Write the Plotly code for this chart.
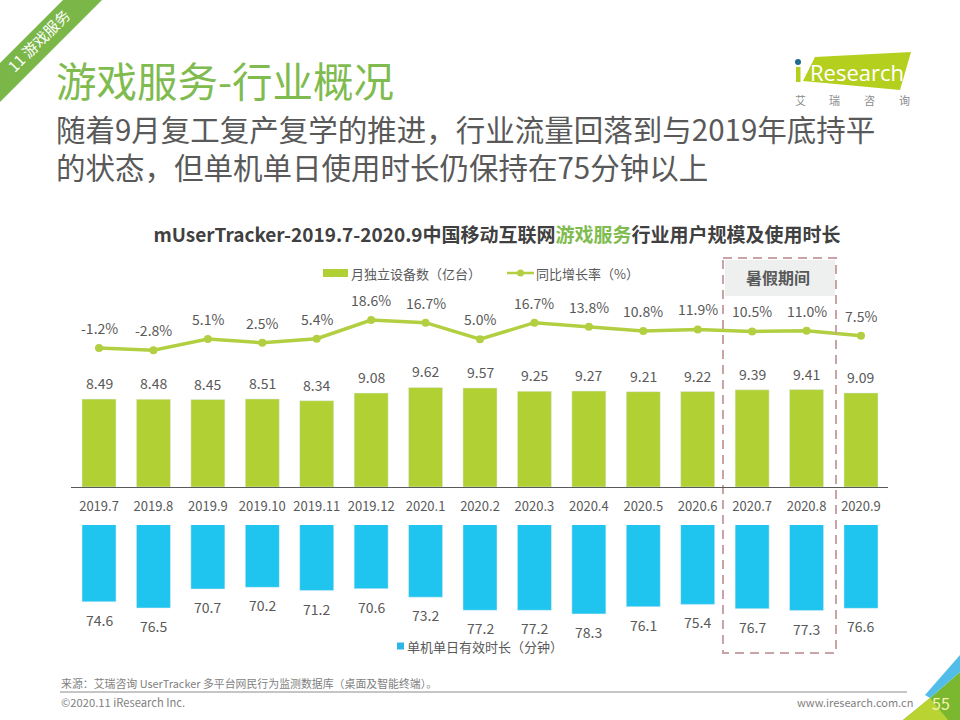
import plotly.graph_objects as go

months = ["2019.7","2019.8","2019.9","2019.10","2019.11","2019.12","2020.1","2020.2","2020.3","2020.4","2020.5","2020.6","2020.7","2020.8","2020.9"]
devices = [8.49,8.48,8.45,8.51,8.34,9.08,9.62,9.57,9.25,9.27,9.21,9.22,9.39,9.41,9.09]
growth = [-1.2,-2.8,5.1,2.5,5.4,18.6,16.7,5.0,16.7,13.8,10.8,11.9,10.5,11.0,7.5]
minutes = [74.6,76.5,70.7,70.2,71.2,70.6,73.2,77.2,77.2,78.3,76.1,75.4,76.7,77.3,76.6]

GREEN = "#b0d034"
LINE = "#b2cf42"
BLUE = "#1fc5ee"
TEXT = "#595959"
TITLE_GREEN = "#7fbb4f"
FONT = "Noto Sans CJK SC"
W, H = 960, 720

def fx(p): return p / W
def fy(p): return 1 - p / H

def poly(points, color):
    path = "M " + " L ".join(f"{fx(x):.5f},{fy(y):.5f}" for x, y in points) + " Z"
    return dict(type="path", xref="paper", yref="paper", path=path, fillcolor=color, line_width=0, layer="below")

def rect(x0, y0, x1, y1, color, layer="below"):
    return dict(type="rect", xref="paper", yref="paper", x0=fx(x0), x1=fx(x1), y0=fy(y0), y1=fy(y1),
                fillcolor=color, line_width=0, layer=layer)

def label(x, y, text, size, color=TEXT, anchor="left", angle=0, family=FONT):
    return dict(xref="paper", yref="paper", x=fx(x), y=fy(y), text=text, showarrow=False, xanchor=anchor,
                yanchor="middle", align="left", textangle=angle, font=dict(size=size, color=color, family=family))

fig = go.Figure()
fig.add_bar(x=months, y=devices, name="月独立设备数（亿台）", marker_color=GREEN, yaxis="y", width=0.625)
fig.add_scatter(x=months, y=growth, name="同比增长率（%）", mode="lines+markers", yaxis="y3",
                line=dict(color=LINE, width=3.5), marker=dict(color=LINE, size=8))
fig.add_bar(x=months, y=minutes, name="单机单日有效时长（分钟）", marker_color=BLUE, yaxis="y2", width=0.625)

ann = []
value_font = dict(size=14, color=TEXT, family=FONT)
for i, (d, g, t) in enumerate(zip(devices, growth, minutes)):
    ann.append(dict(xref="x", x=i, yref="y", y=d, text=f"{d:.2f}", yshift=16, showarrow=False, font=value_font))
    ann.append(dict(xref="x", x=i, yref="y3", y=g, text=f"{g:.1f}%", yshift=20, showarrow=False, font=value_font))
    ann.append(dict(xref="x", x=i, yref="y2", y=t, text=f"{t:.1f}", yshift=-18, showarrow=False, font=value_font))

ann += [
    label(38, 40, "11 游戏服务", 15, "#ffffff", "center", -45),
    label(54, 79, "游戏服务-行业概况", 40.5, TITLE_GREEN),
    label(54, 147, "随着9月复工复产复学的推进，行业流量回落到与2019年底持平<br>的状态，但单机单日使用时长仍保持在75分钟以上", 29.5),
    label(778, 277, "<b>暑假期间</b>", 16, TEXT, "center"),
    label(349, 273, "月独立设备数（亿台）", 13),
    label(534, 273, "同比增长率（%）", 13),
    label(405, 646, "单机单日有效时长（分钟）", 13),
    label(857, 72, "Research", 22, "#ffffff", "center", 0, "Open Sans"),
    label(59, 683, "来源：艾瑞咨询 UserTracker 多平台网民行为监测数据库（桌面及智能终端）。", 10.9, "#7f7f7f"),
    label(59, 702, "©2020.11 iResearch Inc.", 11.2, "#7f7f7f"),
    label(915, 702, "www.iresearch.com.cn", 11, "#7f7f7f", "right"),
    label(941, 703, "55", 16, "#f4f3b0", "center"),
]
for x, ch in zip([800, 834, 869, 904], "艾瑞咨询"):
    ann.append(label(x, 100, ch, 11, "#8c8c8c", "center"))

shapes = [
    poly([(0, 63), (63, 0), (102, 0), (0, 102)], "#7ab648"),
    poly([(815, 57), (911, 52), (900, 90), (803, 81)], "#b5cf1f"),
    rect(796, 67, 800.5, 82, "#b5cf1f"),
    dict(type="circle", xref="paper", yref="paper", x0=fx(795), x1=fx(801), y0=fy(59), y1=fy(65),
         fillcolor="#1f6a8f", line_width=0, layer="below"),
    poly([(960, 672), (930, 698), (903, 720), (960, 720)], "#7cb82f"),
    poly([(930, 698), (903, 720), (948, 720)], "#b9d432"),
    poly([(960, 655), (925, 695), (930, 698), (960, 672)], "#52bde8"),
    rect(725, 260, 835, 296, "#eef0f0"),
    dict(type="rect", xref="paper", yref="paper", x0=fx(723), x1=fx(836), y0=fy(258), y1=fy(653),
         line=dict(color="#c9a3a6", width=2, dash="9px,6px"), fillcolor="rgba(0,0,0,0)", layer="above"),
    dict(type="line", xref="paper", yref="paper", x0=fx(60), x1=fx(907), y0=fy(692), y1=fy(692),
         line=dict(color="#8c8c8c", width=1)),
    dict(type="line", xref="paper", yref="paper", x0=fx(71), x1=fx(888), y0=fy(487.5), y1=fy(487.5),
         line=dict(color="#595959", width=1), layer="above"),
    rect(323, 269, 348, 277, GREEN),
    dict(type="line", xref="paper", yref="paper", x0=fx(507), x1=fx(534), y0=fy(273), y1=fy(273),
         line=dict(color=LINE, width=2.5)),
    dict(type="circle", xref="paper", yref="paper", x0=fx(517), x1=fx(524), y0=fy(269.5), y1=fy(276.5),
         fillcolor=LINE, line_width=0),
    rect(397, 642.5, 404, 649.5, "#2fb5e6"),
]

fig.update_layout(
    width=W, height=H, autosize=False,
    margin=dict(l=0, r=0, t=0, b=0),
    paper_bgcolor="#ffffff", plot_bgcolor="rgba(0,0,0,0)",
    font=dict(family=FONT, color=TEXT, size=13),
    bargap=0.375,
    showlegend=False,
    title=dict(
        text=f"<b>mUserTracker-2019.7-2020.9中国移动互联网<span style='color:{TITLE_GREEN}'>游戏服务</span>行业用户规模及使用时长</b>",
        x=fx(497), xanchor="center", y=fy(235), yanchor="middle", font=dict(size=19, color="#404040", family=FONT),
    ),
    xaxis=dict(domain=[fx(71.8), fx(888.2)], anchor="y", range=[-0.5, 14.5], type="category", tickmode="array",
               tickvals=months, ticktext=months, showline=False, ticks="outside",
               ticklen=7, tickcolor="rgba(0,0,0,0)", tickfont=dict(size=13, color=TEXT), showgrid=False, zeroline=False),
    yaxis=dict(domain=[fy(487), fy(360)], range=[0, 12.27], visible=False),
    yaxis2=dict(domain=[fy(640), fy(525)], range=[86.26, 51.2], visible=False, anchor="x"),
    yaxis3=dict(domain=[fy(360), fy(300)], range=[-9.69, 32.75], visible=False, anchor="x"),
    annotations=ann,
    shapes=shapes,
)

fig.write_html("out.html", config=dict(displayModeBar=False), post_script="document.body.style.margin='0';")
